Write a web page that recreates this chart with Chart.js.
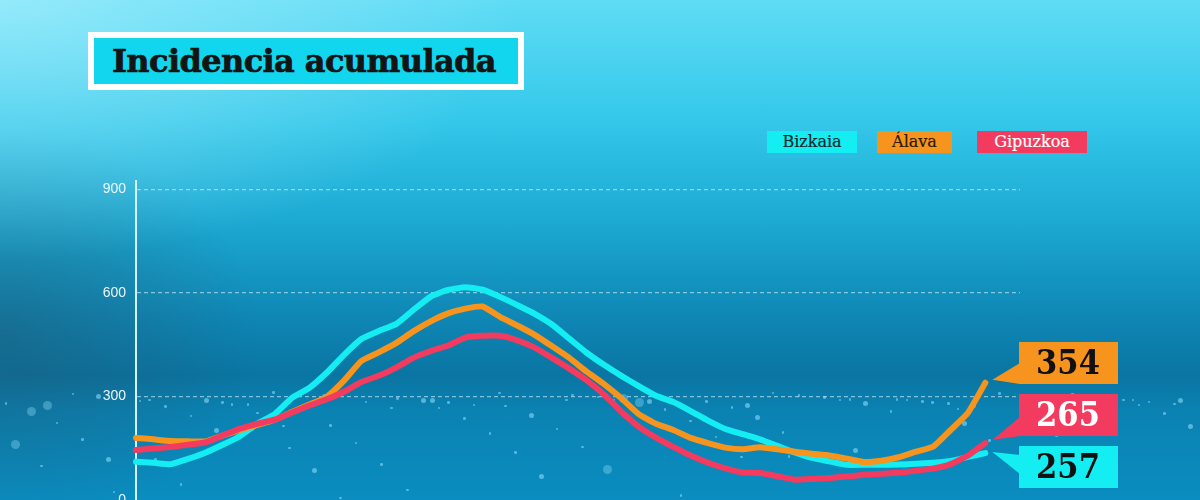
<!DOCTYPE html>
<html>
<head>
<meta charset="utf-8">
<script src="https://cdn.jsdelivr.net/npm/chart.js@4.4.1/dist/chart.umd.min.js"></script>
<style>
html,body{margin:0;padding:0;width:1200px;height:500px;overflow:hidden;}
body{position:relative;
  background:
    radial-gradient(ellipse 520px 260px at 0px 0px, rgba(190,245,255,0.55), rgba(190,245,255,0) 100%),
    radial-gradient(ellipse 260px 200px at 0px 330px, rgba(40,70,90,0.35), rgba(40,70,90,0) 100%),
    linear-gradient(to bottom, #5fdcf5 0px, #34c8ea 120px, #1aa6d0 230px, #0e86b4 320px, #0a75a2 375px, #0a82b2 410px, #0a8dc0 500px);
}
#title{position:absolute;left:88px;top:32px;width:424px;height:46px;border:6px solid #ffffff;background:#12d5ee;
  font-family:"DejaVu Serif",serif;font-weight:bold;font-size:32px;color:#141414;line-height:46px;padding:0;}
#title span{position:absolute;left:18px;top:0;letter-spacing:-0.6px;-webkit-text-stroke:0.7px #141414;}
#legend{position:absolute;left:0;top:0;}
.lg{position:absolute;top:131px;height:22px;line-height:22px;font-family:"DejaVu Serif",serif;font-size:16px;text-align:center;-webkit-text-stroke:0.2px currentColor;}
#wrap{position:absolute;left:0;top:0;width:1200px;height:500px;}
#dots{position:absolute;left:0;top:0;width:1200px;height:500px;}
.dot{position:absolute;border-radius:50%;background:rgba(150,225,255,0.55);}
</style>
</head>
<body>
<div id="title"><span>Incidencia acumulada</span></div>
<div id="legend"></div>
<div id="dots"></div>
<div id="wrap"><canvas id="c" width="1200" height="500"></canvas></div>
<script>
// ---- data ----
const seriesNames = ["Bizkaia", "Álava", "Gipuzkoa"];
const seriesColors = ["#14eef2", "#f7941d", "#f23b5e"];
const seriesTextColors = ["#12262c", "#2a1a08", "#ffffff"];
const endLabels = ["257", "354", "265"];
const yTicks = [0, 300, 600, 900];

const bizkaia = [111,108,104,119,137,160,185,221,249,296,325,369,421,467,490,510,551,590,609,617,610,589,565,540,509,468,427,392,360,330,302,284,258,230,206,191,176,157,138,122,112,102,102,102,103,105,108,113,125,136];
const alava   = [180,176,171,170,170,187,203,218,233,255,277,299,346,403,428,455,489,518,541,555,561,531,506,479,446,412,372,336,295,249,221,203,180,165,152,147,153,147,140,134,129,120,110,114,124,140,155,203,253,340];
const gipuzkoa= [145,149,154,160,167,187,207,221,233,254,274,292,314,342,360,384,412,432,448,471,476,476,463,442,412,381,347,306,256,213,181,154,129,108,92,80,78,69,59,61,64,68,73,76,79,85,91,104,129,165];

const days = [];
for (let i = 0; i < 52; i++) days.push(String(i + 1));

// decorative sparkle dots (deterministic low-discrepancy placement)
(function () {
  const host = document.getElementById('dots');
  for (let k = 1; k <= 110; k++) {
    const fx = (k * 0.6180339887) % 1;
    const fy = (k * 0.7548776662) % 1;
    const x = fx * 1200;
    const band = k % 3 === 0;
    const y = band ? 392 + fy * 14 : 400 + fy * fy * 100;
    const r = k % 17 === 0 ? 9 : (k % 5 === 0 ? 5 : 2.5);
    const d = document.createElement('div');
    d.className = 'dot';
    d.style.left = (x - r / 2) + 'px';
    d.style.top = (y - r / 2) + 'px';
    d.style.width = r + 'px';
    d.style.height = r + 'px';
    if (r > 6) d.style.background = 'rgba(150,225,255,0.35)';
    host.appendChild(d);
  }
})();

// legend (HTML)
const legendLeft = [767, 877, 977];
const legendWidth = [90, 75, 110];
const lgEl = document.getElementById('legend');
seriesNames.forEach((n, i) => {
  const d = document.createElement('div');
  d.className = 'lg';
  d.textContent = n;
  d.style.left = legendLeft[i] + 'px';
  d.style.width = legendWidth[i] + 'px';
  d.style.background = seriesColors[i];
  d.style.color = seriesTextColors[i];
  lgEl.appendChild(d);
});

// callout plugin
const calloutPlugin = {
  id: 'callouts',
  afterDatasetsDraw(chart) {
    const ctx = chart.ctx;
    const boxTop = [446, 342, 394];
    const baseOff = [[9, 28], [21, 42], [23, 42]];
    const boxL = 1019, boxW = 99, boxH = 42;
    [0, 1, 2].forEach(i => {
      const meta = chart.getDatasetMeta(i);
      const pt = meta.data[meta.data.length - 1];
      const tipX = pt.x + 7, tipY = pt.y - 3 + (i === 0 ? 2 : 0);
      ctx.save();
      ctx.fillStyle = seriesColors[i];
      ctx.beginPath();
      ctx.moveTo(tipX, tipY);
      ctx.lineTo(boxL + 1, boxTop[i] + baseOff[i][0]);
      ctx.lineTo(boxL + 1, boxTop[i] + baseOff[i][1]);
      ctx.closePath();
      ctx.fill();
      ctx.fillRect(boxL, boxTop[i], boxW, boxH);
      ctx.fillStyle = seriesTextColors[i] === '#ffffff' ? '#ffffff' : '#111111';
      ctx.font = 'bold 34px "DejaVu Serif Condensed", "DejaVu Serif", serif';
      ctx.textAlign = 'center';
      ctx.textBaseline = 'middle';
      ctx.fillText(endLabels[i], boxL + 49, boxTop[i] + boxH / 2 + 2);
      ctx.restore();
    });
  }
};

new Chart(document.getElementById('c'), {
  type: 'line',
  data: {
    labels: days,
    datasets: [
      { label: seriesNames[0], data: bizkaia, borderColor: seriesColors[0], order: 3 },
      { label: seriesNames[1], data: alava, borderColor: seriesColors[1], order: 2 },
      { label: seriesNames[2], data: gipuzkoa, borderColor: seriesColors[2], order: 1 }
    ]
  },
  options: {
    responsive: false,
    animation: false,
    devicePixelRatio: 1,
    layout: { padding: { left: 80, right: 180, top: 181, bottom: 0 } },
    elements: {
      line: { borderWidth: 6, tension: 0.15, borderCapStyle: 'round', borderJoinStyle: 'round', fill: false },
      point: { radius: 0 }
    },
    plugins: { legend: { display: false }, tooltip: { enabled: false } },
    scales: {
      x: { display: false, offset: false, max: '52' },
      y: {
        min: 0, max: 925,
        afterBuildTicks: s => { s.ticks = yTicks.map(v => ({ value: v })); },
        afterFit: s => { s.width = 56; s.paddingTop = 0; s.paddingBottom = 0; },
        grid: { drawTicks: false, color: c => c.tick.value === 0 ? 'rgba(0,0,0,0)' : 'rgba(210,240,250,0.6)', lineWidth: 1.2 },
        border: { display: true, color: 'rgba(220,250,255,0.95)', width: 2, dash: [4, 3] },
        ticks: { color: 'rgba(255,255,255,0.92)', padding: 10, font: { family: '"Liberation Sans", Arial, sans-serif', size: 14 } }
      }
    }
  },
  plugins: [calloutPlugin]
});
</script>
</body>
</html>
